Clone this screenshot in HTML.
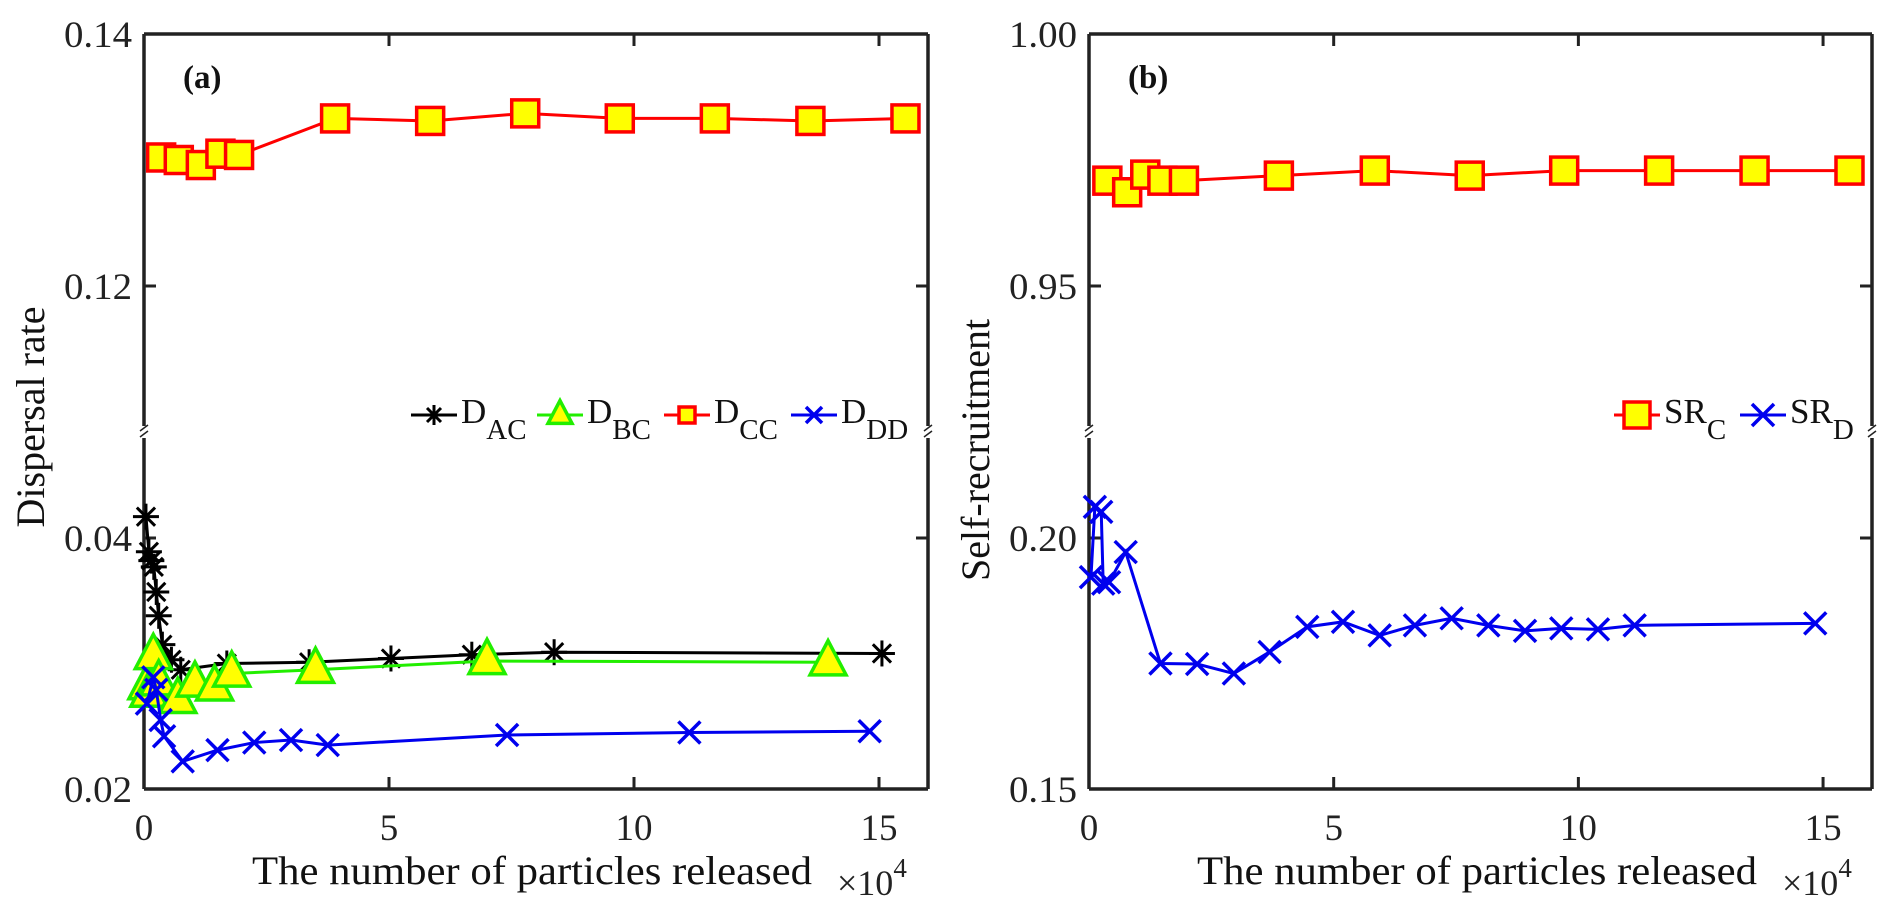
<!DOCTYPE html>
<html><head><meta charset="utf-8"><style>
html,body{margin:0;padding:0;background:#fff;}
svg{display:block;font-family:"Liberation Serif",serif;}
</style></head><body>
<svg id="chart" width="1892" height="917" viewBox="0 0 1892 917"></svg>
<script>
// ---- data ----
const xTicks = [0, 5, 10, 15];
const aUpperTicks = [0.12, 0.14];
const aLowerTicks = [0.02, 0.04];
const bUpperTicks = [0.95, 1.00];
const bLowerTicks = [0.15, 0.20];

const dacX = [0.04, 0.1, 0.15, 0.2, 0.25, 0.3, 0.375, 0.56, 0.75, 1.69, 3.37, 5.04, 6.69, 8.37, 15.06];
const dacY = [0.0417, 0.0389, 0.0382, 0.0377, 0.0357, 0.0338, 0.0315, 0.0303, 0.0295, 0.0300, 0.0301, 0.0304, 0.0307, 0.0309, 0.0308];
const dbcX = [0.06, 0.1, 0.19, 0.3, 0.69, 1.04, 1.44, 1.79, 3.5, 7.0, 13.96];
const dbcY = [0.0282, 0.0276, 0.0306, 0.0285, 0.0271, 0.0284, 0.0281, 0.0292, 0.0295, 0.0302, 0.0301];
const dccX = [0.35, 0.71, 1.16, 1.56, 1.94, 3.9, 5.84, 7.78, 9.71, 11.65, 13.6, 15.54];
const dccY = [0.1302, 0.1300, 0.1296, 0.1305, 0.1304, 0.1333, 0.1331, 0.1337, 0.1333, 0.1333, 0.1331, 0.1333];
const dddX = [0.06, 0.19, 0.25, 0.34, 0.41, 0.79, 1.5, 2.25, 3.0, 3.75, 7.41, 11.13, 14.81];
const dddY = [0.0268, 0.0289, 0.0279, 0.0255, 0.0242, 0.0222, 0.0231, 0.0237, 0.0239, 0.0235, 0.0243, 0.0245, 0.0246];

const srcX = [0.375, 0.78, 1.15, 1.5, 1.94, 3.88, 5.84, 7.78, 9.71, 11.65, 13.6, 15.54];
const srcY = [0.9709, 0.9686, 0.9721, 0.9709, 0.9709, 0.9719, 0.9729, 0.9719, 0.9729, 0.9729, 0.9729, 0.9729];
const srdX = [0.04, 0.12, 0.25, 0.29, 0.41, 0.75, 1.46, 2.21, 2.96, 3.69, 4.46, 5.19, 5.94, 6.66, 7.41, 8.16, 8.91, 9.65, 10.4, 11.15, 14.84];
const srdY = [0.1922, 0.2062, 0.2052, 0.1909, 0.1912, 0.1972, 0.1750, 0.1749, 0.1730, 0.1773, 0.1823, 0.1833, 0.1806, 0.1826, 0.1840, 0.1826, 0.1815, 0.1820, 0.1818, 0.1826, 0.1830];

// ---- helpers ----
const NS = "http://www.w3.org/2000/svg";
const svg = document.getElementById("chart");
function el(tag, attrs, parent) {
  const e = document.createElementNS(NS, tag);
  for (const k in attrs) e.setAttribute(k, attrs[k]);
  (parent || svg).appendChild(e);
  return e;
}
const TOP = 34, BOT = 789, BRK = 432;

function makePanel(p) {
  const g = el("g", {});
  
  
  const xs = v => p.left + (v - 0) / 16 * (p.right - p.left);
  const ysU = v => 286 - (v - p.u0) / (p.u1 - p.u0) * (286 - TOP);
  const ysL = v => BOT - (v - p.l0) / (p.l1 - p.l0) * (BOT - 538);
  const ys = v => v > p.splitVal ? ysU(v) : ysL(v);
  const ax = el("g", {}, g);
  
  
  const st = {stroke: "#222", "stroke-width": 3.5, fill: "none"};
  el("line", Object.assign({x1: p.left, y1: TOP, x2: p.right, y2: TOP}, st), ax);
  el("line", Object.assign({x1: p.left, y1: BOT, x2: p.right, y2: BOT}, st), ax);
  [p.left, p.right].forEach(x => {
    el("line", Object.assign({x1: x, y1: TOP, x2: x, y2: BRK - 6}, st), ax);
    el("line", Object.assign({x1: x, y1: BRK + 6, x2: x, y2: BOT}, st), ax);
    el("line", {x1: x - 4, y1: BRK - 1, x2: x + 4, y2: BRK - 7, stroke: "#222", "stroke-width": 1.5}, ax);
    el("line", {x1: x - 4, y1: BRK + 5, x2: x + 4, y2: BRK - 1, stroke: "#222", "stroke-width": 1.5}, ax);
  });
  xTicks.forEach(t => {
    const x = xs(t);
    el("line", {x1: x, y1: BOT, x2: x, y2: BOT - 12, stroke: "#222", "stroke-width": 3}, ax);
    el("line", {x1: x, y1: TOP, x2: x, y2: TOP + 12, stroke: "#222", "stroke-width": 3}, ax);
    const tx = el("text", {x: x, y: 840, "font-size": 37, "text-anchor": "middle", fill: "#222"}, ax);
    
    
    tx.textContent = t;
  });
  const yt = (vals, f) => vals.forEach(v => {
    const y = f(v);
    el("line", {x1: p.left, y1: y, x2: p.left + 12, y2: y, stroke: "#222", "stroke-width": 3}, ax);
    el("line", {x1: p.right, y1: y, x2: p.right - 12, y2: y, stroke: "#222", "stroke-width": 3}, ax);
    const tx = el("text", {x: p.left - 12, y: y + 13, "font-size": 37, "text-anchor": "end", fill: "#222",
      textLength: 68, lengthAdjust: "spacingAndGlyphs"}, ax);
    
    
    tx.textContent = v.toFixed(2);
  });
  yt(p.upperTicks, ysU); yt(p.lowerTicks, ysL);
  const xl = el("text", {x: p.left + 108, y: 884, "font-size": 40, fill: "#111",
    textLength: 560, lengthAdjust: "spacingAndGlyphs"}, g);
  
  
  xl.textContent = "The number of particles released";
  const xm = el("text", {x: p.left + 693, y: 895, "font-size": 36, fill: "#222"}, g);
  
  
  xm.innerHTML = '×10<tspan dy="-18" font-size="27">4</tspan>';
  const yl = el("text", {x: 0, y: 0, "font-size": 40, fill: "#111", "text-anchor": "middle",
    transform: `translate(${p.left - 100},${p.yLabelY}) rotate(-90)`}, g);
  
  
  yl.textContent = p.yLabel;
  const pl = el("text", {x: p.left + 39, y: 88, "font-size": 33, "font-weight": "bold", fill: "#111"}, g);
  
  
  pl.textContent = p.tag;
  return {g, xs, ys};
}

function series(P, xArr, yArr, color, marker, name) {
  const g = el("g", {}, P.g);
  
  
  const pts = xArr.map((x, i) => [P.xs(x), P.ys(yArr[i])]);
  const pl = el("polyline", {points: pts.map(p => p.join(",")).join(" "), fill: "none", stroke: color, "stroke-width": 3}, g);
  
  
  pts.forEach(([x, y]) => { const m = drawMarker(g, marker, x, y);
    
     });
}
function drawMarker(g, type, x, y, s) {
  if (type === "square") { s = s || 27; return el("rect", {x: x - s/2, y: y - s/2, width: s, height: s, fill: "#ffff00", stroke: "#ff0000", "stroke-width": 3.5}, g); }
  if (type === "tri") { s = s || 36; return el("polygon", {points: `${x},${y - s*0.6} ${x - s/2},${y + s*0.35} ${x + s/2},${y + s*0.35}`, fill: "#ffff00", stroke: "#22ee00", "stroke-width": 3.5}, g); }
  if (type === "star") { s = s || 13; const mg = el("g", {stroke: "#000", "stroke-width": 3}, g);
    el("line", {x1: x - s, y1: y, x2: x + s, y2: y}, mg); el("line", {x1: x, y1: y - s, x2: x, y2: y + s}, mg);
    el("line", {x1: x - s*0.7, y1: y - s*0.7, x2: x + s*0.7, y2: y + s*0.7}, mg); el("line", {x1: x - s*0.7, y1: y + s*0.7, x2: x + s*0.7, y2: y - s*0.7}, mg); return mg; }
  s = s || 11; const mg = el("g", {stroke: "#0000ee", "stroke-width": 3.5}, g);
  el("line", {x1: x - s, y1: y - s, x2: x + s, y2: y + s}, mg); el("line", {x1: x - s, y1: y + s, x2: x + s, y2: y - s}, mg); return mg;
}

const A = makePanel({name: "panel-a", left: 144, right: 928, u0: 0.12, u1: 0.14, l0: 0.02, l1: 0.04, splitVal: 0.08,
  upperTicks: aUpperTicks, lowerTicks: aLowerTicks, yLabel: "Dispersal rate", yLabelY: 417, tag: "(a)"});
series(A, dacX, dacY, "#000", "star", "series-dac");
series(A, dbcX, dbcY, "#22ee00", "tri", "series-dbc");
series(A, dddX, dddY, "#0000ee", "x", "series-ddd");
series(A, dccX, dccY, "#ff0000", "square", "series-dcc");

const B = makePanel({name: "panel-b", left: 1089, right: 1872, u0: 0.95, u1: 1.00, l0: 0.15, l1: 0.20, splitVal: 0.5,
  upperTicks: bUpperTicks, lowerTicks: bLowerTicks, yLabel: "Self-recruitment", yLabelY: 450, tag: "(b)"});
series(B, srdX, srdY, "#0000ee", "x", "series-srd");
series(B, srcX, srcY, "#ff0000", "square", "series-src");

function legend(items, x0, y, name) {
  const g = el("g", {});
  
  
  let x = x0;
  items.forEach(it => {
    const e = el("g", {}, g);
    
    
    el("line", {x1: x, y1: y, x2: x + 46, y2: y, stroke: it.c, "stroke-width": 3}, e);
    drawMarker(e, it.m, x + 23, y, it.s);
    const t = el("text", {x: x + 50, y: y + 8, "font-size": 35, fill: "#111"}, e);
    t.innerHTML = it.main + `<tspan dy="16" font-size="29">${it.sub}</tspan>`;
    x += it.w;
  });
}
legend([
  {c: "#000", m: "star", main: "D", sub: "AC", w: 126, s: 10},
  {c: "#22ee00", m: "tri", main: "D", sub: "BC", w: 127, s: 24},
  {c: "#ff0000", m: "square", main: "D", sub: "CC", w: 127, s: 16},
  {c: "#0000ee", m: "x", main: "D", sub: "DD", w: 126, s: 8}
], 411, 415, "legend-a");
legend([
  {c: "#ff0000", m: "square", main: "SR", sub: "C", w: 126, s: 26},
  {c: "#0000ee", m: "x", main: "SR", sub: "D", w: 126, s: 11}
], 1614, 415, "legend-b");
</script>
</body></html>
